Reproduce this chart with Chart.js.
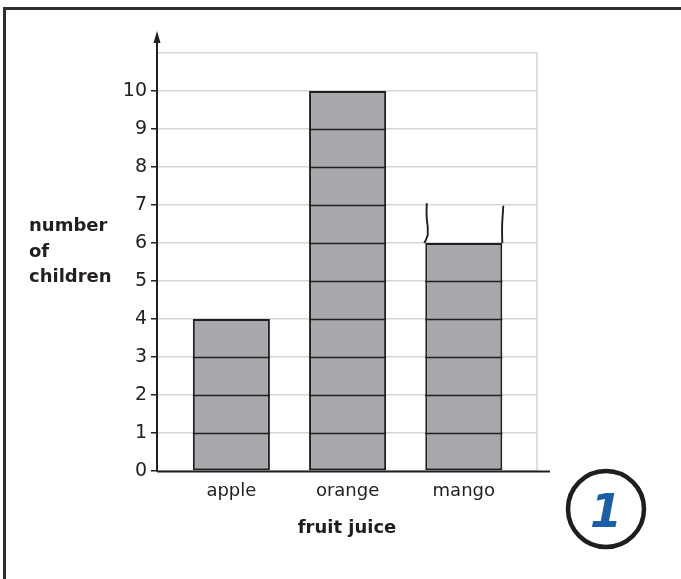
<!DOCTYPE html>
<html>
<head>
<meta charset="utf-8">
<script src="https://cdn.jsdelivr.net/npm/chart.js@4/dist/chart.umd.min.js"></script>
<style>
  body { margin: 0; background: #fff; }
  #wrap { width: 681px; height: 579px; }
</style>
</head>
<body>
<div id="wrap"><canvas id="myChart" width="681" height="579"></canvas></div>
<script>
// data
const fruits = ['apple', 'orange', 'mango'];
const childCount = [4, 10, 6];
const yTicks = [0, 1, 2, 3, 4, 5, 6, 7, 8, 9, 10];
const yTop = 11;
// hand-drawn extension above the mango bar (left edge, right edge)
const mangoIndex = 2;
const mangoSketchTop = [7.05, 6.98];

const yTitle = ['number', 'of', 'children'];
const xTitle = 'fruit juice';
const badge = '1';

const ink = '#231f20';
const barGrey = '#a7a8ab';
const gridGrey = '#d5d5d5';

const decorations = {
    id: 'decorations',
    afterDatasetsDraw(chart) {
        const ctx = chart.ctx;
        const y = chart.scales.y;
        const meta = chart.getDatasetMeta(0);
        ctx.save();
        ctx.strokeStyle = ink;
        ctx.lineWidth = 1.7;
        // unit lines inside each bar
        meta.data.forEach((bar, i) => {
            const left = bar.x - bar.width / 2;
            const right = bar.x + bar.width / 2;
            for (let k = 1; k < childCount[i]; k++) {
                const py = Math.round(y.getPixelForValue(k)) + 0.5;
                ctx.beginPath();
                ctx.moveTo(left, py);
                ctx.lineTo(right, py);
                ctx.stroke();
            }
        });
        // the scribbled lines above mango
        const mb = meta.data[mangoIndex];
        const base = y.getPixelForValue(childCount[mangoIndex]);
        const lx = mb.x - mb.width / 2;
        const rx = mb.x + mb.width / 2;
        const lTop = y.getPixelForValue(mangoSketchTop[0]);
        const rTop = y.getPixelForValue(mangoSketchTop[1]);
        ctx.lineWidth = 1.9;
        ctx.beginPath();
        ctx.moveTo(lx - 1, base);
        ctx.quadraticCurveTo(lx + 1, base - 3, lx + 2.5, base - 8);
        ctx.quadraticCurveTo(lx + 3, base - 16, lx + 1.5, base - 24);
        ctx.quadraticCurveTo(lx + 1, base - 32, lx + 1.5, lTop);
        ctx.stroke();
        ctx.beginPath();
        ctx.moveTo(rx, base);
        ctx.quadraticCurveTo(rx - 0.5, base - 14, rx, base - 22);
        ctx.quadraticCurveTo(rx + 0.5, base - 30, rx + 1, rTop);
        ctx.stroke();
        ctx.restore();
    },
    afterDraw(chart) {
        const ctx = chart.ctx;
        const area = chart.chartArea;
        const y = chart.scales.y;
        const zero = Math.round(y.getPixelForValue(0)) + 0.5;
        ctx.save();
        // right edge of the grid box
        ctx.strokeStyle = gridGrey;
        ctx.lineWidth = 1.5;
        ctx.beginPath();
        ctx.moveTo(area.right, area.top);
        ctx.lineTo(area.right, zero);
        ctx.stroke();
        // axes
        ctx.strokeStyle = ink;
        ctx.fillStyle = ink;
        ctx.lineWidth = 2;
        ctx.beginPath();
        ctx.moveTo(area.left, zero);
        ctx.lineTo(area.right + 13, zero);
        ctx.stroke();
        ctx.beginPath();
        ctx.moveTo(area.left, zero);
        ctx.lineTo(area.left, 38);
        ctx.stroke();
        ctx.beginPath();
        ctx.moveTo(area.left, 31);
        ctx.lineTo(area.left - 3.5, 43);
        ctx.lineTo(area.left + 3.5, 43);
        ctx.closePath();
        ctx.fill();
        // y title, written flat
        ctx.font = 'bold 18px "DejaVu Sans"';
        ctx.textAlign = 'left';
        ctx.textBaseline = 'alphabetic';
        yTitle.forEach((t, i) => ctx.fillText(t, 29, 231 + i * 25.5));
        // frame
        ctx.strokeStyle = '#2d2d2d';
        ctx.lineWidth = 3;
        ctx.beginPath();
        ctx.moveTo(4.5, 579);
        ctx.lineTo(4.5, 8.5);
        ctx.lineTo(681, 8.5);
        ctx.stroke();
        // page badge
        ctx.strokeStyle = '#1e1e1e';
        ctx.lineWidth = 4.5;
        ctx.beginPath();
        ctx.arc(606, 509, 38, 0, Math.PI * 2);
        ctx.stroke();
        ctx.fillStyle = '#1b5fa8';
        ctx.font = 'italic bold 46px "DejaVu Sans"';
        ctx.textAlign = 'center';
        ctx.textBaseline = 'alphabetic';
        ctx.fillText(badge, 606, 527);
        ctx.restore();
    }
};

const ctx = document.getElementById('myChart');
new Chart(ctx, {
    type: 'bar',
    data: {
        datasets: [{
            data: fruits.map((f, i) => ({ x: i, y: childCount[i] })),
            backgroundColor: barGrey,
            borderColor: ink,
            borderWidth: 2,
            borderSkipped: false,
            barPercentage: 0.663,
            categoryPercentage: 1
        }]
    },
    plugins: [decorations],
    options: {
        responsive: false,
        animation: false,
        events: [],
        layout: { padding: { left: 0, top: 53, right: 144, bottom: 0 } },
        plugins: { legend: { display: false }, tooltip: { enabled: false } },
        scales: {
            x: {
                type: 'linear',
                offset: false,
                min: -0.64,
                max: 2.63,
                afterBuildTicks: (axis) => { axis.ticks = fruits.map((f, i) => ({ value: i })); },
                afterFit: (axis) => { axis.height = 108; },
                grid: { display: false, drawTicks: false },
                border: { display: false },
                ticks: {
                    padding: 10,
                    color: '#222',
                    font: { family: 'DejaVu Sans', size: 18 },
                    callback: (v) => fruits[v]
                },
                title: {
                    display: true,
                    text: xTitle,
                    color: '#1e1e1e',
                    font: { family: 'DejaVu Sans', size: 18, weight: 'bold' },
                    padding: { top: 4, bottom: 40 }
                }
            },
            y: {
                min: 0,
                max: yTop,
                afterBuildTicks: (axis) => { axis.ticks = yTicks.concat([yTop]).map(v => ({ value: v })); },
                afterFit: (axis) => { axis.width = 157; },
                border: { display: false },
                grid: {
                    color: gridGrey,
                    lineWidth: 1.5,
                    tickLength: 6,
                    tickWidth: 1.5,
                    tickColor: (c) => (c.tick && c.tick.value === yTop) ? 'rgba(0,0,0,0)' : ink
                },
                ticks: {
                    padding: 4,
                    color: '#222',
                    font: { family: 'DejaVu Sans', size: 19 },
                    callback: (v) => v === yTop ? '' : v
                }
            }
        }
    }
});
</script>
</body>
</html>
